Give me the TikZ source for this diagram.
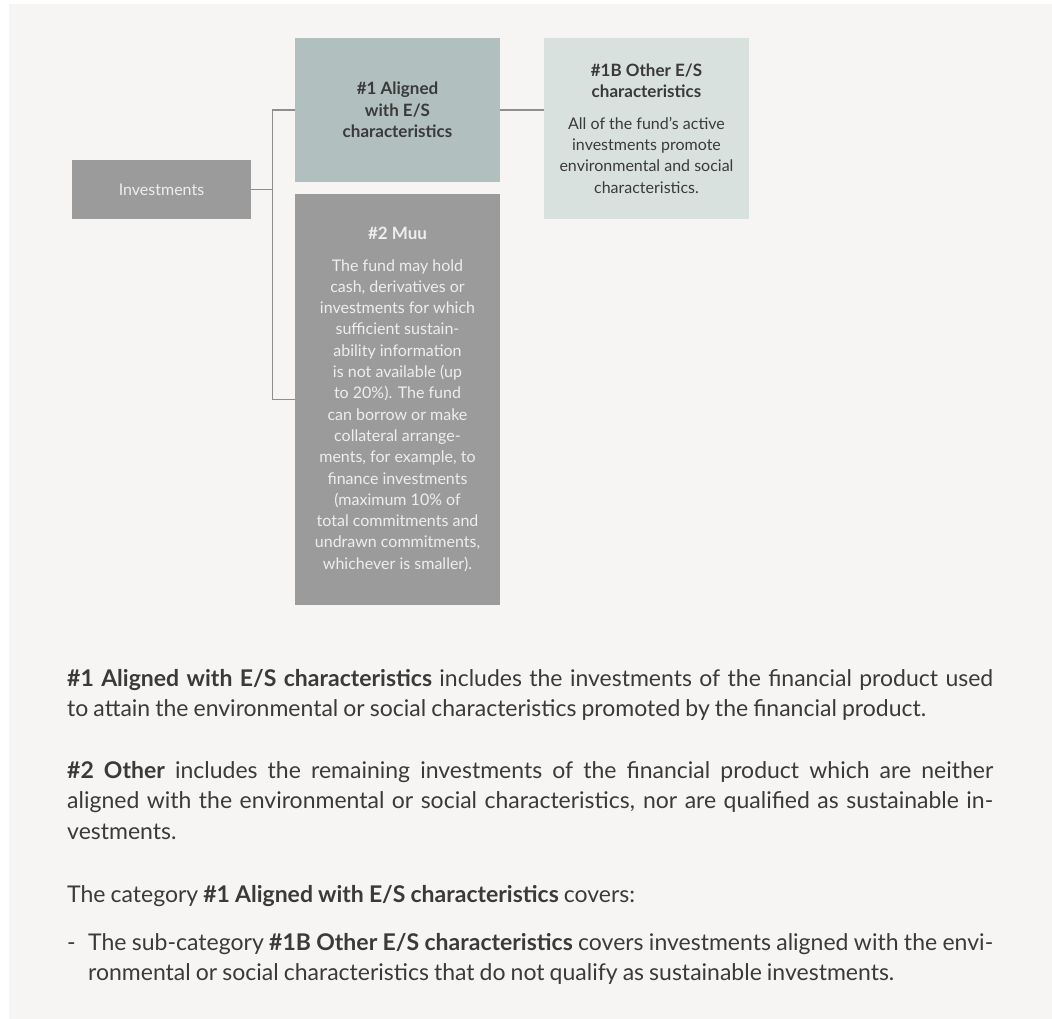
\documentclass[tikz,border=0pt]{standalone}
\usepackage{fontspec}
\setmainfont{Lato}
\usepackage{tikz}
\usetikzlibrary{calc}
\definecolor{panelbg}{HTML}{F6F5F3}
\definecolor{boxgray}{HTML}{9B9B9B}
\definecolor{boxteal}{HTML}{B1BFBE}
\definecolor{boxpale}{HTML}{D9E1DF}
\definecolor{linkgray}{HTML}{8E8E8E}
\definecolor{textdark}{HTML}{3A3A3A}
\definecolor{textlight}{HTML}{EEEEEE}
\hyphenpenalty=10000
\exhyphenpenalty=10000
\newcommand\parafont{\fontsize{23}{30.7}\selectfont\spaceskip=0.22em plus 0.2em minus 0.1em\relax}
\newcommand\boxhead[1]{{\fontsize{17}{21.3}\selectfont\bfseries #1}}

\begin{document}
\begin{tikzpicture}[x=1pt,y=-1pt,
  box/.style={inner sep=0pt,align=center,font=\fontsize{16}{21.3}\selectfont},
  link/.style={draw=linkgray,line width=1.3pt},
  para/.style={anchor=base west,inner sep=0pt,text width=926pt,align=justify,
    text=textdark,font=\parafont}]
\useasboundingbox (0,0) rectangle (1052,1019);
\fill[panelbg] (9,4) rectangle (1052,1019);
% boxes
\node[box,fill=boxgray,text=textlight,minimum width=179pt,minimum height=59pt] (inv) at (161.5,189.5) {Investments};
\node[box,fill=boxteal,text=textdark,minimum width=205pt,minimum height=144pt] (aligned) at (397.5,110) {\boxhead{\#1 Aligned}\\\boxhead{with E/S}\\\boxhead{characteristics}};
\node[box,fill=boxpale,text=textdark,minimum width=205pt,minimum height=181pt] (otheres) at (646.5,128.5) {\boxhead{\#1B Other E/S}\\\boxhead{characteristics}\\[10pt]All of the fund's active\\investments promote\\environmental and social\\characteristics.};
\node[box,fill=boxgray,text=textlight,minimum width=205pt,minimum height=411pt] (muu) at (397.5,399.5) {\boxhead{\#2 Muu}\\[10pt]The fund may hold\\cash, derivatives or\\investments for which\\sufficient sustain-\\ability information\\is not available (up\\to 20\%). The fund\\can borrow or make\\collateral arrange-\\ments, for example, to\\finance investments\\(maximum 10\% of\\total commitments and\\undrawn commitments,\\whichever is smaller).};
% connectors
\draw[link] (inv.east) -- ++(21,0) coordinate (fork) |- (aligned.west);
\draw[link] (fork) |- (muu.west);
\draw[link] (aligned.east) -- (otheres.west |- aligned.east);
% text below
\node[para] (alignednote) at (67,686) {\textbf{\#1 Aligned with E/S characteristics} includes the investments of the financial product used\linebreak to attain the environmental or social characteristics promoted by the financial product.};
\node[para] (othernote) at (67,778) {\textbf{\#2 Other} includes the remaining investments of the financial product which are neither\linebreak aligned with the environmental or social characteristics, nor are qualified as sustainable in-\linebreak vestments.};
\node[para] (coversnote) at (67,902) {The category \textbf{\#1 Aligned with E/S characteristics} covers:};
\node[para] (subnote) at (67,950) {\hangindent=21pt\hangafter=1\makebox[21pt][l]{-}The sub-category \textbf{\#1B Other E/S characteristics} covers investments aligned with the envi-\linebreak ronmental or social characteristics that do not qualify as sustainable investments.\par};
\end{tikzpicture}
\end{document}
